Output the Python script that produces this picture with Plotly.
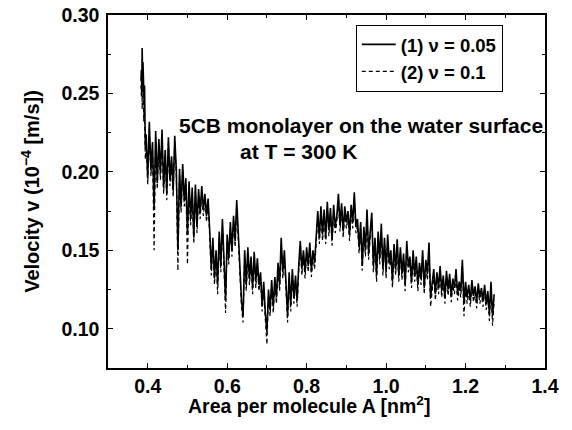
import plotly.graph_objects as go

# Area per molecule A [nm^2]
area_start = [0.383, 0.384, 0.385, 0.386, 0.387, 0.388, 0.389, 0.390, 0.391, 0.392, 0.393, 0.394]
area_main = [
    0.396, 0.400, 0.404, 0.408, 0.412, 0.416, 0.420, 0.424, 0.428, 0.432,
    0.436, 0.440, 0.444, 0.448, 0.452, 0.456, 0.460, 0.464, 0.468, 0.472,
    0.476, 0.480, 0.484, 0.488, 0.492, 0.496, 0.500, 0.504, 0.508, 0.512,
    0.516, 0.520, 0.524, 0.528, 0.532, 0.536, 0.540, 0.544, 0.548, 0.552,
    0.556, 0.560, 0.564, 0.568, 0.572, 0.576, 0.580, 0.584, 0.588, 0.592,
    0.596, 0.600, 0.604, 0.608, 0.612, 0.616, 0.620, 0.624, 0.628, 0.632,
    0.636, 0.640, 0.644, 0.648, 0.652, 0.656, 0.660, 0.664, 0.668, 0.672,
    0.676, 0.680, 0.684, 0.688, 0.692, 0.696, 0.700, 0.704, 0.708, 0.712,
    0.716, 0.720, 0.724, 0.728, 0.732, 0.736, 0.740, 0.744, 0.748, 0.752,
    0.756, 0.760, 0.764, 0.768, 0.772, 0.776, 0.780, 0.784, 0.788, 0.792,
    0.796, 0.800, 0.804, 0.808, 0.812, 0.816, 0.820, 0.824, 0.828, 0.832,
    0.836, 0.840, 0.844, 0.848, 0.852, 0.856, 0.860, 0.864, 0.868, 0.872,
    0.876, 0.880, 0.884, 0.888, 0.892, 0.896, 0.900, 0.904, 0.908, 0.912,
    0.916, 0.920, 0.924, 0.928, 0.932, 0.936, 0.940, 0.944, 0.948, 0.952,
    0.956, 0.960, 0.964, 0.968, 0.972, 0.976, 0.980, 0.984, 0.988, 0.992,
    0.996, 1.000, 1.004, 1.008, 1.012, 1.016, 1.020, 1.024, 1.028, 1.032,
    1.036, 1.040, 1.044, 1.048, 1.052, 1.056, 1.060, 1.064, 1.068, 1.072,
    1.076, 1.080, 1.084, 1.088, 1.092, 1.096, 1.100, 1.104, 1.108, 1.112,
    1.116, 1.120, 1.124, 1.128, 1.132, 1.136, 1.140, 1.144, 1.148, 1.152,
    1.156, 1.160, 1.164, 1.168, 1.172, 1.176, 1.180, 1.184, 1.188, 1.192,
    1.196, 1.200, 1.204, 1.208, 1.212, 1.216, 1.220, 1.224, 1.228, 1.232,
    1.236, 1.240, 1.244, 1.248, 1.252, 1.256, 1.260, 1.264, 1.268, 1.272,
]

# Velocity (10^-4 m/s), series (1) nu = 0.05
v1_start = [0.258, 0.265, 0.252, 0.279, 0.262, 0.270, 0.248, 0.262, 0.244, 0.255, 0.232, 0.215]
v1_main = [
    0.224, 0.196, 0.232, 0.201, 0.219, 0.176, 0.226, 0.193, 0.221, 0.199,
    0.227, 0.190, 0.214, 0.186, 0.222, 0.195, 0.210, 0.188, 0.223, 0.201,
    0.150, 0.202, 0.178, 0.205, 0.182, 0.196, 0.160, 0.194, 0.170, 0.190,
    0.158, 0.192, 0.165, 0.189, 0.174, 0.191, 0.176, 0.186, 0.172, 0.183,
    0.163, 0.138, 0.158, 0.132, 0.150, 0.128, 0.162, 0.140, 0.170, 0.145,
    0.118, 0.160, 0.145, 0.168, 0.150, 0.172, 0.156, 0.182, 0.162, 0.140,
    0.118, 0.108, 0.150, 0.128, 0.152, 0.132, 0.146, 0.126, 0.149, 0.130,
    0.145, 0.128, 0.136, 0.115, 0.130, 0.110, 0.098, 0.125, 0.112, 0.131,
    0.114, 0.133, 0.120, 0.142, 0.128, 0.158, 0.136, 0.150, 0.124, 0.108,
    0.136, 0.115, 0.138, 0.120, 0.134, 0.118, 0.140, 0.156, 0.138, 0.150,
    0.136, 0.152, 0.140, 0.155, 0.137, 0.150, 0.142, 0.156, 0.175, 0.158,
    0.178, 0.160, 0.176, 0.158, 0.181, 0.163, 0.177, 0.157, 0.179, 0.165,
    0.172, 0.186, 0.166, 0.180, 0.162, 0.178, 0.168, 0.175, 0.160, 0.179,
    0.168, 0.187, 0.165, 0.170, 0.152, 0.168, 0.140, 0.165, 0.150, 0.176,
    0.148, 0.162, 0.174, 0.140, 0.158, 0.134, 0.162, 0.145, 0.167, 0.138,
    0.158, 0.136, 0.160, 0.142, 0.150, 0.130, 0.154, 0.138, 0.157, 0.134,
    0.152, 0.135, 0.148, 0.128, 0.156, 0.140, 0.146, 0.130, 0.150, 0.134,
    0.146, 0.128, 0.142, 0.132, 0.150, 0.126, 0.144, 0.135, 0.155, 0.120,
    0.130, 0.138, 0.122, 0.136, 0.126, 0.140, 0.124, 0.134, 0.120, 0.137,
    0.125, 0.135, 0.121, 0.132, 0.126, 0.138, 0.122, 0.130, 0.124, 0.144,
    0.116, 0.130, 0.120, 0.128, 0.118, 0.131, 0.121, 0.127, 0.117, 0.129,
    0.120, 0.126, 0.118, 0.128, 0.116, 0.124, 0.110, 0.130, 0.108, 0.122,
]

# Velocity (10^-4 m/s), series (2) nu = 0.1
v2_start = [0.255, 0.248, 0.262, 0.240, 0.268, 0.236, 0.255, 0.232, 0.246, 0.225, 0.228, 0.208]
v2_main = [
    0.220, 0.192, 0.228, 0.197, 0.215, 0.150, 0.222, 0.189, 0.217, 0.195,
    0.223, 0.186, 0.210, 0.182, 0.218, 0.191, 0.206, 0.184, 0.219, 0.197,
    0.137, 0.198, 0.174, 0.201, 0.178, 0.192, 0.141, 0.190, 0.166, 0.186,
    0.154, 0.188, 0.161, 0.185, 0.170, 0.187, 0.172, 0.182, 0.168, 0.179,
    0.159, 0.134, 0.154, 0.128, 0.146, 0.122, 0.158, 0.136, 0.166, 0.141,
    0.110, 0.156, 0.141, 0.164, 0.146, 0.168, 0.152, 0.178, 0.158, 0.136,
    0.114, 0.104, 0.146, 0.124, 0.148, 0.128, 0.142, 0.122, 0.145, 0.126,
    0.141, 0.124, 0.132, 0.111, 0.126, 0.106, 0.090, 0.121, 0.108, 0.127,
    0.110, 0.129, 0.116, 0.138, 0.124, 0.154, 0.132, 0.146, 0.120, 0.104,
    0.132, 0.111, 0.134, 0.116, 0.130, 0.114, 0.136, 0.152, 0.134, 0.146,
    0.132, 0.148, 0.136, 0.151, 0.133, 0.146, 0.138, 0.152, 0.171, 0.154,
    0.174, 0.156, 0.172, 0.154, 0.177, 0.159, 0.173, 0.153, 0.175, 0.161,
    0.168, 0.182, 0.162, 0.176, 0.158, 0.174, 0.164, 0.171, 0.156, 0.175,
    0.164, 0.183, 0.161, 0.166, 0.148, 0.164, 0.137, 0.161, 0.146, 0.172,
    0.144, 0.158, 0.170, 0.136, 0.154, 0.130, 0.158, 0.141, 0.163, 0.134,
    0.154, 0.132, 0.156, 0.138, 0.146, 0.126, 0.150, 0.134, 0.153, 0.130,
    0.148, 0.131, 0.144, 0.124, 0.152, 0.136, 0.142, 0.126, 0.146, 0.130,
    0.142, 0.124, 0.138, 0.128, 0.146, 0.122, 0.140, 0.131, 0.151, 0.114,
    0.126, 0.134, 0.118, 0.132, 0.122, 0.136, 0.120, 0.130, 0.116, 0.133,
    0.121, 0.131, 0.117, 0.128, 0.122, 0.134, 0.118, 0.126, 0.120, 0.140,
    0.108, 0.126, 0.116, 0.124, 0.114, 0.127, 0.117, 0.123, 0.113, 0.125,
    0.116, 0.122, 0.114, 0.124, 0.112, 0.120, 0.105, 0.126, 0.102, 0.118,
]

series_names = ["(1) ν = 0.05", "(2) ν = 0.1"]
x_ticks = [0.4, 0.6, 0.8, 1.0, 1.2, 1.4]
y_ticks = [0.10, 0.15, 0.20, 0.25, 0.30]

area = area_start + area_main
v1 = v1_start + v1_main
v2 = v2_start + v2_main

FONT = "Liberation Sans, Arial, sans-serif"
BOLD = dict(family=FONT, size=20, color="black", weight="bold")
TICKFONT = dict(family=FONT, size=19.5, color="black", weight="bold")

fig = go.Figure()
fig.add_trace(go.Scatter(x=area, y=v1, mode="lines", name=series_names[0],
                         line=dict(color="black", width=1.6)))
fig.add_trace(go.Scatter(x=area, y=v2, mode="lines", name=series_names[1],
                         line=dict(color="black", width=1.2, dash="4px,3px")))

axis_common = dict(showline=True, linecolor="black", linewidth=1.5, mirror="allticks",
                   ticks="inside", ticklen=5, tickwidth=1.2, tickcolor="black",
                   showgrid=False, zeroline=False, automargin=False,
                   ticklabeloverflow="allow", tickfont=TICKFONT)

fig.update_layout(
    width=572, height=430,
    margin=dict(l=108, r=27, t=15, b=62),
    paper_bgcolor="white", plot_bgcolor="white",
    font=BOLD,
    showlegend=True,
    legend=dict(x=0.567, y=0.972, xanchor="left", yanchor="top",
                bordercolor="black", borderwidth=1, bgcolor="white",
                font=dict(family=FONT, size=18.5, color="black", weight="bold"),
                tracegroupgap=0, itemwidth=34),
    xaxis=dict(range=[0.3, 1.4], tickvals=x_ticks,
               ticktext=[f"{t:.1f}" for t in x_ticks], ticklabelstandoff=0,
               minor=dict(ticks="inside", ticklen=3, tickcolor="black", dtick=0.1, tick0=0.3),
               **axis_common),
    yaxis=dict(range=[0.075, 0.30], tickvals=y_ticks,
               ticktext=[f"{t:.2f}" for t in y_ticks], ticklabelstandoff=3,
               minor=dict(ticks="inside", ticklen=3, tickcolor="black", dtick=0.025, tick0=0.1),
               title=dict(text="Velocity v (10<sup>−4</sup> [m/s])", standoff=16, font=BOLD),
               **axis_common),
)

# x-axis title (placed as in the reference, slightly left of centre)
fig.add_annotation(x=0.461, y=-0.106, xref="paper", yref="paper", xanchor="center", yanchor="middle",
                   text="Area per molecule A [nm<sup>2</sup>]", showarrow=False,
                   font=dict(family=FONT, size=19.5, color="black", weight="bold"))

fig.add_annotation(x=0.159, y=0.688, xref="paper", yref="paper", xanchor="left", yanchor="middle",
                   text="5CB monolayer on the water surface", showarrow=False,
                   font=dict(family=FONT, size=21, color="black", weight="bold"))
fig.add_annotation(x=0.297, y=0.612, xref="paper", yref="paper", xanchor="left", yanchor="middle",
                   text="at T = 300 K", showarrow=False,
                   font=dict(family=FONT, size=21, color="black", weight="bold"))

# remove the browser's default 8px page margin so the figure fills the window exactly
fig.write_html("out.html", config={"displayModeBar": False},
               post_script="document.body.style.margin='0';")
